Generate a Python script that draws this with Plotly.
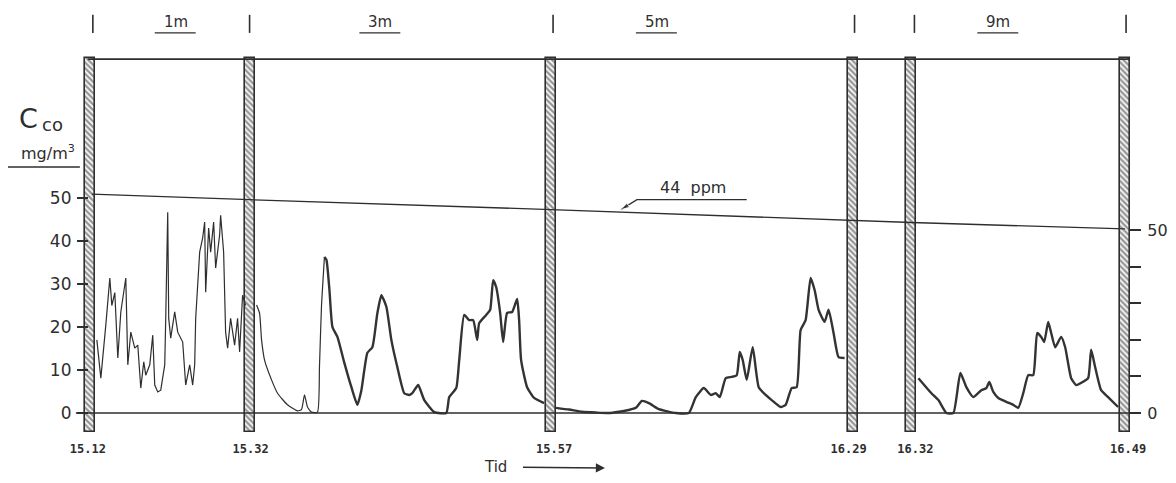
import plotly.graph_objects as go

# ---------------- data (x = position along the chart's time strip) ----------------
bar_pos = [90, 250, 552, 854, 913, 1127]
bar_top = 82.56
bar_base = -4.42
time_labels = ["15.12", "15.32", "15.57", "16.29", "16.32", "16.49"]
time_label_pos = [88, 251, 555, 850, 917, 1130]

height_labels = ["1m", "3m", "5m", "9m"]
height_label_pos = [176, 381, 658, 1000]
marker_pos = [93, 250, 554, 856, 916, 1128]

limit_pos = [92, 250, 552, 854, 913, 1127]
limit_cco = [50.9, 49.6, 47.3, 44.8, 44.3, 42.8]
leader_pos = [748, 638, 622]
leader_cco = [49.6, 49.6, 47.3]

seg_1m_pos = [97, 101, 106, 110, 112, 115, 118, 121, 126, 128, 131, 135, 138, 141, 144, 146, 150, 153,
              155, 158, 161, 165, 166, 168, 169, 171, 175, 178, 183, 186, 190, 193, 195, 196, 200, 203,
              205, 206, 209, 211, 214, 216, 220, 221, 224, 226, 228, 231, 235, 238, 240, 243, 246]
seg_1m_cco = [17.0, 8.1, 20.5, 31.4, 25, 28, 12.8, 23.5, 31.4, 11.2, 18.8, 15.1, 15.8, 5.8, 11.9, 8.8, 11.2,
              18.1, 6.5, 4.9, 5.3, 11.2, 22, 46.7, 22, 17.4, 23.5, 18.8, 16.5, 6.5, 11.2, 6.5, 11.2, 22,
              37.4, 40.7, 44.4, 28.1, 43, 37.4, 44.4, 33.7, 41.4, 46, 37.4, 18.8, 15.1, 22, 15.8, 22, 14.2,
              27.4, 25]

seg_3m_thin_pos = [257, 260, 262, 265, 272, 278, 288, 298, 302, 305, 308, 312, 318, 320, 322, 325]
seg_3m_thin_cco = [25.1, 23.2, 17, 12.3, 7.7, 4.6, 1.9, 0.5, 0.8, 4.2, 1.4, 0.2, 0.2, 10.7, 24.7, 36.3]

seg_3m_pos = [325, 327, 330, 333, 338, 345, 352, 358, 362, 368, 373, 378, 382, 387, 392, 398, 405, 410,
              413, 417, 419, 425, 435, 447, 450, 457, 460, 465, 470, 474, 478, 480, 487, 491, 494, 497,
              501, 504, 508, 513, 518, 520, 522, 528, 535, 545]
seg_3m_cco = [36.3, 35.6, 28.6, 20, 17.7, 11.6, 6, 1.9, 5.3, 14, 15.3, 23.2, 27.4, 24.7, 17, 10.7, 4.6,
              4.2, 4.6, 6, 6.5, 3, 0.2, 0, 3.7, 5.8, 12.3, 22.8, 21.6, 21.6, 17, 20.9, 22.8, 24, 30.9,
              29.3, 23.3, 16.5, 23.3, 23.5, 26.5, 21.6, 12.3, 6, 3.5, 2.3]

seg_5m_pos = [557, 570, 583, 597, 610, 620, 630, 637, 643, 650, 660, 677, 690, 697, 705, 712, 717, 721,
              727, 733, 738, 741, 744, 748, 754, 760, 767, 773, 782, 787, 793, 798, 802, 807, 812, 816,
              820, 826, 830, 835, 840, 846]
seg_5m_cco = [1.2, 0.8, 0.3, 0.1, 0, 0.3, 0.7, 1.2, 2.8, 2.3, 0.9, 0, 0, 3.7, 5.8, 4.2, 4.6, 3.7, 8.1,
              8.4, 8.8, 14.2, 12.3, 7.7, 15.3, 6, 4.2, 3, 1.4, 1.9, 5.8, 6, 19.3, 21.6, 31.4, 28.6, 24,
              21.2, 24, 18.6, 13, 12.8]

seg_9m_pos = [920, 933, 940, 948, 955, 962, 968, 975, 983, 988, 991, 995, 1000, 1008, 1015, 1020, 1025,
              1030, 1035, 1039, 1043, 1046, 1050, 1053, 1057, 1063, 1067, 1073, 1078, 1083, 1090, 1093,
              1097, 1103, 1110, 1120]
seg_9m_cco = [8.1, 4.6, 3, 0, 0, 9.3, 6, 3.7, 5.3, 5.8, 7.2, 4.9, 3.5, 2.6, 1.9, 1.2, 4.6, 8.8, 8.8,
              18.6, 17.7, 16.5, 21.2, 18.6, 15.3, 17.7, 15.3, 8.1, 6.5, 7, 8.1, 14.7, 10.7, 5.3, 3.7, 1.4]

left_ticks = [0, 10, 20, 30, 40, 50]
right_major_ticks = [0, 50]
right_minor_ticks = [10, 20, 30, 40]

# ---------------- figure ----------------
INK = "#2e2e2e"
FONT = "DejaVu Sans"
# the page body has an 8px margin; the figure is sized to fit inside the window and
# the x scale is set so that one x unit equals one screen pixel.
OFF = 8
W, H = 1160, 467
PLOT_BOTTOM = 43          # plot area ends at screen y = 432
plot_h = H - PLOT_BOTTOM

fig = go.Figure()

fig.add_trace(go.Scatter(x=[76, 1140], y=[0, 0], mode="lines",
                         line=dict(color=INK, width=1.6), hoverinfo="skip", showlegend=False))
fig.add_trace(go.Scatter(x=limit_pos, y=limit_cco, mode="lines",
                         line=dict(color=INK, width=1.3), showlegend=False))
fig.add_trace(go.Scatter(x=leader_pos, y=leader_cco, mode="lines+markers",
                         line=dict(color=INK, width=1.3),
                         marker=dict(symbol="arrow", angleref="previous", size=[0, 0, 9], color=INK),
                         hoverinfo="skip", showlegend=False))

thin = dict(color=INK, width=1.2)
thick = dict(color="#333333", width=2.4, shape="spline", smoothing=0.5)
fig.add_trace(go.Scatter(x=seg_1m_pos, y=seg_1m_cco, mode="lines", line=thin, showlegend=False))
fig.add_trace(go.Scatter(x=seg_3m_thin_pos, y=seg_3m_thin_cco, mode="lines",
                         line=dict(color=INK, width=1.2, shape="spline", smoothing=0.5), showlegend=False))
for px, py in [(seg_3m_pos, seg_3m_cco), (seg_5m_pos, seg_5m_cco), (seg_9m_pos, seg_9m_cco)]:
    fig.add_trace(go.Scatter(x=px, y=py, mode="lines", line=thick, showlegend=False))

fig.add_trace(go.Scatter(x=[limit_pos[-1]], y=[0], yaxis="y2", mode="markers",
                         marker=dict(opacity=0), hoverinfo="skip", showlegend=False))

fig.add_trace(go.Bar(
    x=bar_pos, y=[bar_top - bar_base] * len(bar_pos), base=bar_base, width=10,
    marker=dict(color="white", line=dict(color=INK, width=1.6),
                pattern=dict(shape="\\", fgcolor=INK, bgcolor="white", size=4, solidity=0.6)),
    showlegend=False, hoverinfo="skip"))

shapes = []
shapes.append(dict(type="line", xref="x", yref="y", x0=88, x1=1131, y0=82.3, y1=82.3,
                   line=dict(color=INK, width=1.6)))
for m in marker_pos:
    shapes.append(dict(type="line", xref="x", yref="y", x0=m, x1=m, y0=88.4, y1=92.6,
                       line=dict(color=INK, width=1.6)))
for p in height_label_pos:
    shapes.append(dict(type="line", xref="x", yref="y", x0=p - 21, x1=p + 20, y0=88.4, y1=88.4,
                       line=dict(color=INK, width=1.4)))
shapes.append(dict(type="line", xref="x", yref="y", x0=OFF, x1=80, y0=57.2, y1=57.2,
                   line=dict(color=INK, width=1.4)))


def paper_y(screen_y):
    return (plot_h - (screen_y - OFF)) / plot_h


annotations = []
for p, lab in zip(height_label_pos, height_labels):
    annotations.append(dict(x=p, y=90.9, xref="x", yref="y", text=lab, showarrow=False,
                            font=dict(family=FONT, size=15, color=INK)))
annotations.append(dict(x=29, y=68.6, xref="x", yref="y", text="C", showarrow=False,
                        font=dict(family=FONT, size=27, color=INK)))
annotations.append(dict(x=53, y=67.2, xref="x", yref="y", text="co", showarrow=False,
                        font=dict(family=FONT, size=18, color=INK)))
annotations.append(dict(x=48, y=60.6, xref="x", yref="y", text="mg/m<sup>3</sup>", showarrow=False,
                        font=dict(family=FONT, size=16, color=INK)))
annotations.append(dict(x=694, y=52.4, xref="x", yref="y", text="44  ppm", showarrow=False,
                        font=dict(family=FONT, size=16, color=INK)))
annotations.append(dict(x=606, y=paper_y(468), xref="x", yref="paper",
                        ax=497 - 606, ay=-1, axref="pixel", ayref="pixel",
                        text="Tid", showarrow=True, arrowhead=2, arrowsize=1.3, arrowwidth=1.4,
                        arrowcolor=INK, startstandoff=14,
                        font=dict(family=FONT, size=15, color=INK)))

fig.update_layout(
    width=W, height=H,
    margin=dict(l=0, r=0, t=0, b=PLOT_BOTTOM),
    paper_bgcolor="white", plot_bgcolor="white",
    bargap=0,
    xaxis=dict(range=[OFF, OFF + W], showgrid=False, zeroline=False, showline=False,
               tickvals=time_label_pos, ticktext=time_labels, ticks="",
               ticklabelstandoff=8,
               tickfont=dict(family="DejaVu Sans Mono", size=12, color=INK, weight="bold")),
    yaxis=dict(range=[(413 - 432) / 4.3, (413 - OFF) / 4.3], showgrid=False, zeroline=False,
               showline=False, anchor="free", position=(88 - OFF) / W, side="left",
               tickvals=left_ticks, ticks="outside", ticklen=11, tickwidth=1.5, tickcolor=INK,
               ticklabelstandoff=2,
               tickfont=dict(family=FONT, size=17, color=INK)),
    yaxis2=dict(range=[(413 - 432) / 3.66, (413 - OFF) / 3.66], showgrid=False, zeroline=False,
                showline=False, overlaying="y", anchor="free", position=(1131 - OFF) / W,
                side="right",
                tickvals=right_major_ticks, ticks="outside", ticklen=11,
                tickwidth=1.5, tickcolor=INK, ticklabelstandoff=3,
                minor=dict(tickvals=right_minor_ticks, ticks="outside", ticklen=11,
                           tickwidth=1.5, tickcolor=INK),
                tickfont=dict(family=FONT, size=16, color=INK)),
    shapes=shapes,
    annotations=annotations,
)

fig.write_html("out.html")
